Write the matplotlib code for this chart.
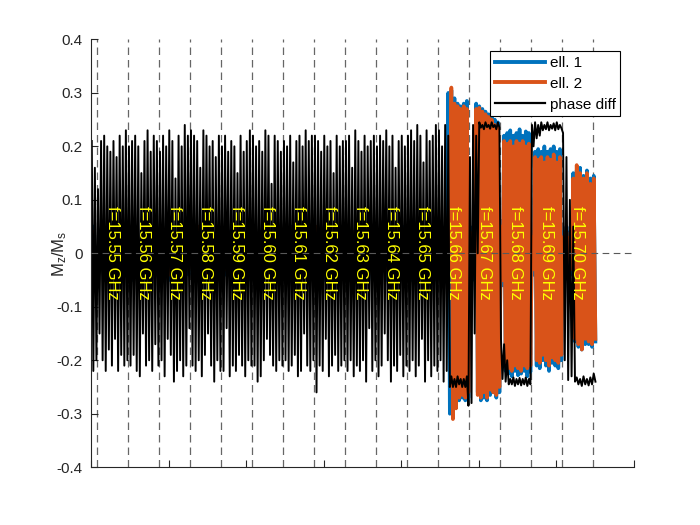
import numpy as np
import matplotlib
matplotlib.use('Agg')
import matplotlib.pyplot as plt
from matplotlib.lines import Line2D

plt.rcParams['font.family'] = 'Liberation Sans'
plt.rcParams['mathtext.default'] = 'regular'
plt.rcParams['axes.unicode_minus'] = False

# drive frequency of each time window (GHz)
freqs = ['15.55', '15.56', '15.57', '15.58', '15.59', '15.60', '15.61', '15.62',
         '15.63', '15.64', '15.65', '15.66', '15.67', '15.68', '15.69', '15.70']
# time window edges (data ends a bit after the last marker)
edges = [0.0, 1.2, 2.2, 3.2, 4.2, 5.2, 6.2, 7.2, 8.2, 9.2, 10.2,
         11.2, 12.2, 13.2, 14.2, 15.2, 16.3]
# dashed markers between frequencies
markers = [0.2, 1.2, 2.2, 3.2, 4.2, 5.2, 6.2, 7.2, 8.2, 9.2, 10.2,
           11.2, 12.2, 13.2, 14.2, 15.2, 16.2]

# ell. 1 : upper / lower swing of the oscillation in each window
ell1_hi = [
    [0.05, 0.04, 0.05, 0.03, 0.04], [0.04, 0.05, 0.03, 0.04, 0.05],
    [0.05, 0.03, 0.05, 0.04, 0.03], [0.04, 0.05, 0.04, 0.05, 0.03],
    [0.03, 0.04, 0.05, 0.04, 0.05], [0.05, 0.04, 0.03, 0.05, 0.04],
    [0.04, 0.05, 0.04, 0.03, 0.05], [0.03, 0.04, 0.05, 0.04, 0.05],
    [0.05, 0.04, 0.05, 0.03, 0.04], [0.04, 0.03, 0.05, 0.04, 0.05],
    [0.05, 0.04, 0.04, 0.06, 0.05],
    [0.04, 0.03, 0.05, 0.30, 0.305, 0.29, 0.28, 0.275, 0.28, 0.285],
    [0.04, 0.05, 0.28, 0.275, 0.27, 0.265, 0.26, 0.255, 0.25, 0.245],
    [0.06, 0.22, 0.225, 0.23, 0.22, 0.225, 0.232, 0.22, 0.228, 0.225],
    [0.04, 0.19, 0.195, 0.19, 0.20, 0.19, 0.195, 0.20, 0.19, 0.195],
    [0.04, 0.05, 0.04, 0.15, 0.155, 0.16, 0.145, 0.155, 0.14, 0.145],
]
ell1_lo = [
    [-0.04, -0.05, -0.04, -0.05, -0.03], [-0.05, -0.04, -0.05, -0.03, -0.04],
    [-0.04, -0.05, -0.03, -0.05, -0.04], [-0.05, -0.03, -0.05, -0.04, -0.05],
    [-0.04, -0.05, -0.04, -0.03, -0.05], [-0.03, -0.05, -0.04, -0.05, -0.04],
    [-0.05, -0.04, -0.05, -0.04, -0.03], [-0.04, -0.05, -0.03, -0.05, -0.04],
    [-0.05, -0.03, -0.04, -0.05, -0.04], [-0.04, -0.05, -0.04, -0.03, -0.05],
    [-0.05, -0.04, -0.06, -0.04, -0.05],
    [-0.04, -0.05, -0.03, -0.30, -0.306, -0.28, -0.275, -0.27, -0.275, -0.27],
    [-0.04, -0.05, -0.26, -0.275, -0.27, -0.275, -0.265, -0.26, -0.27, -0.26],
    [-0.06, -0.22, -0.225, -0.23, -0.22, -0.228, -0.225, -0.22, -0.23, -0.222],
    [-0.04, -0.21, -0.215, -0.20, -0.21, -0.22, -0.205, -0.21, -0.215, -0.20],
    [-0.04, -0.05, -0.04, -0.165, -0.175, -0.18, -0.17, -0.17, -0.175, -0.165],
]

# ell. 2
ell2_hi = [
    [0.04, 0.03, 0.06, 0.03, 0.04], [0.03, 0.04, 0.03, 0.05, 0.04],
    [0.04, 0.03, 0.04, 0.03, 0.05], [0.03, 0.05, 0.03, 0.04, 0.03],
    [0.04, 0.03, 0.05, 0.03, 0.04], [0.03, 0.04, 0.03, 0.04, 0.05],
    [0.04, 0.03, 0.04, 0.03, 0.04], [0.05, 0.03, 0.04, 0.05, 0.03],
    [0.03, 0.04, 0.05, 0.04, 0.03], [0.04, 0.03, 0.04, 0.05, 0.04],
    [0.04, 0.05, 0.04, 0.05, 0.04],
    [0.03, 0.02, 0.04, 0.03, 0.31, 0.28, 0.275, 0.27, 0.275, 0.27],
    [0.03, 0.04, 0.27, 0.272, 0.265, 0.26, 0.255, 0.25, 0.24, 0.235],
    [0.05, 0.21, 0.205, 0.21, 0.20, 0.21, 0.205, 0.21, 0.20, 0.205],
    [0.03, 0.18, 0.175, 0.18, 0.17, 0.18, 0.175, 0.185, 0.17, 0.18],
    [0.03, 0.04, 0.03, 0.14, 0.165, 0.15, 0.14, 0.15, 0.13, 0.14],
]
ell2_lo = [
    [-0.03, -0.04, -0.03, -0.04, -0.03], [-0.04, -0.03, -0.04, -0.03, -0.04],
    [-0.03, -0.04, -0.03, -0.04, -0.03], [-0.04, -0.03, -0.04, -0.03, -0.04],
    [-0.03, -0.04, -0.03, -0.04, -0.03], [-0.04, -0.03, -0.04, -0.03, -0.04],
    [-0.03, -0.04, -0.03, -0.04, -0.03], [-0.04, -0.03, -0.04, -0.03, -0.04],
    [-0.03, -0.04, -0.03, -0.04, -0.03], [-0.04, -0.03, -0.04, -0.03, -0.04],
    [-0.03, -0.04, -0.03, -0.04, -0.03],
    [-0.03, -0.04, -0.02, -0.03, -0.31, -0.29, -0.27, -0.265, -0.27, -0.26],
    [-0.03, -0.04, -0.265, -0.27, -0.26, -0.27, -0.255, -0.26, -0.265, -0.25],
    [-0.05, -0.21, -0.215, -0.22, -0.21, -0.215, -0.22, -0.21, -0.215, -0.21],
    [-0.03, -0.20, -0.205, -0.19, -0.20, -0.21, -0.195, -0.20, -0.205, -0.19],
    [-0.03, -0.04, -0.03, -0.16, -0.17, -0.18, -0.16, -0.165, -0.17, -0.16],
]

# phase diff
pd_hi = [
    [0.21, 0.16, 0.12, 0.21, 0.22, 0.20, 0.19, 0.21, 0.18, 0.22, 0.20, 0.23],
    [0.20, 0.21, 0.22, 0.20, 0.15, 0.21, 0.23, 0.19, 0.22, 0.21],
    [0.19, 0.22, 0.20, 0.23, 0.21, 0.14, 0.22, 0.20, 0.24, 0.22],
    [0.23, 0.22, 0.21, 0.16, 0.23, 0.22, 0.20, 0.21, 0.18, 0.22],
    [0.20, 0.22, 0.19, 0.21, 0.20, 0.15, 0.22, 0.19, 0.21, 0.23],
    [0.22, 0.20, 0.21, 0.19, 0.23, 0.22, 0.13, 0.22, 0.21, 0.19],
    [0.21, 0.20, 0.22, 0.17, 0.21, 0.22, 0.20, 0.23, 0.21, 0.22],
    [0.22, 0.21, 0.19, 0.22, 0.20, 0.21, 0.15, 0.22, 0.20, 0.21],
    [0.21, 0.22, 0.16, 0.23, 0.21, 0.19, 0.22, 0.20, 0.21, 0.22],
    [0.20, 0.22, 0.21, 0.23, 0.20, 0.22, 0.16, 0.21, 0.22, 0.20],
    [0.22, 0.23, 0.21, 0.24, 0.22, 0.17, 0.23, 0.21, 0.22, 0.24],
    [0.23, 0.20, 0.24, 0.22, -0.23, -0.235, -0.23, -0.235, -0.235, -0.23],
    [0.18, 0.24, 0.22, 0.245, 0.24, 0.245, 0.24, 0.245, 0.24, 0.245],
    [-0.16, -0.17, -0.20, -0.235, -0.232, -0.235, -0.233, -0.235, -0.232, -0.235],
    [0.24, 0.245, 0.24, 0.245, 0.24, 0.245, 0.24, 0.243, 0.245, 0.24],
    [0.225, 0.18, 0.10, 0.05, -0.232, -0.235, -0.23, -0.235, -0.232, -0.225],
]
pd_lo = [
    [-0.22, -0.20, -0.15, -0.20, -0.22, -0.18, -0.21, -0.16, -0.22, -0.19, -0.21, -0.20],
    [-0.21, -0.19, -0.22, -0.23, -0.15, -0.21, -0.20, -0.22, -0.17, -0.21],
    [-0.20, -0.23, -0.16, -0.19, -0.24, -0.22, -0.20, -0.23, -0.21, -0.14],
    [-0.21, -0.22, -0.20, -0.23, -0.19, -0.15, -0.21, -0.24, -0.20, -0.22],
    [-0.22, -0.14, -0.23, -0.21, -0.22, -0.19, -0.21, -0.23, -0.20, -0.21],
    [-0.21, -0.24, -0.23, -0.20, -0.16, -0.19, -0.21, -0.22, -0.20, -0.21],
    [-0.20, -0.22, -0.21, -0.19, -0.23, -0.22, -0.15, -0.21, -0.22, -0.20],
    [-0.26, -0.21, -0.22, -0.16, -0.23, -0.21, -0.19, -0.22, -0.21, -0.20],
    [-0.22, -0.20, -0.23, -0.21, -0.22, -0.20, -0.24, -0.14, -0.22, -0.20],
    [-0.23, -0.21, -0.15, -0.20, -0.24, -0.21, -0.22, -0.19, -0.23, -0.21],
    [-0.22, -0.20, -0.23, -0.21, -0.16, -0.24, -0.20, -0.23, -0.21, -0.22],
    [-0.20, -0.24, -0.22, -0.25, -0.25, -0.25, -0.245, -0.25, -0.25, -0.285],
    [-0.28, -0.15, 0.0, 0.235, 0.232, 0.236, 0.233, 0.236, 0.232, 0.235],
    [-0.235, -0.24, -0.245, -0.245, -0.248, -0.245, -0.247, -0.245, -0.248, -0.245],
    [0.20, 0.215, 0.22, 0.23, 0.232, 0.23, 0.233, 0.23, 0.232, 0.234],
    [-0.20, -0.237, -0.23, -0.24, -0.245, -0.248, -0.245, -0.247, -0.245, -0.24],
]


def swing(hi, lo):
    # alternate between the upper and lower swing inside every window
    xs, ys = [], []
    for k in range(len(hi)):
        n = len(hi[k])
        step = (edges[k + 1] - edges[k]) / (2 * n)
        x = edges[k] + (np.arange(2 * n) + 0.5) * step
        y = np.empty(2 * n)
        y[0::2] = hi[k]
        y[1::2] = lo[k]
        xs.append(x)
        ys.append(y)
    return np.concatenate(xs), np.concatenate(ys)


blue = '#0072BD'
orange = '#D95319'

fig = plt.figure(figsize=(7, 5.25), dpi=100)
ax = fig.add_axes([0.13, 0.11, 0.775, 0.815])

x1, y1 = swing(ell1_hi, ell1_lo)
x2, y2 = swing(ell2_hi, ell2_lo)
xp, yp = swing(pd_hi, pd_lo)
ax.plot(x1, y1, color=blue, lw=2.6, zorder=2)
ax.plot(x2, y2, color=orange, lw=2.6, zorder=2)
ax.plot(xp, yp, color='k', lw=1.4, zorder=2)

# frequency markers (behind the traces)
for xm in markers:
    ax.axvline(xm, color=(0.4, 0.4, 0.4), lw=0.9, ls=(0, (6, 4)), zorder=1)
ax.axhline(0, color=(0.35, 0.35, 0.35), lw=0.8, ls=(0, (6, 4)), zorder=3)

for k, f in enumerate(freqs):
    xc = (markers[k] + markers[k + 1]) / 2
    ax.text(xc, 0, 'f=' + f + ' GHz', rotation=-90, color='yellow',
            ha='center', va='center', fontsize=12, zorder=5)

ax.set_xlim(0, 17.5)
ax.set_ylim(-0.4, 0.4)
ax.set_xticks(np.arange(0, 17.6, 2.5))
ax.set_xticklabels([])
yt = [-0.4, -0.3, -0.2, -0.1, 0, 0.1, 0.2, 0.3, 0.4]
ax.set_yticks(yt)
ax.set_yticklabels(['-0.4', '-0.3', '-0.2', '-0.1', '0', '0.1', '0.2', '0.3', '0.4'])
ax.tick_params(direction='in', length=5, width=0.8, labelsize=11,
               colors='#262626', pad=6)
for s in ['top', 'right']:
    ax.spines[s].set_visible(False)
for s in ['left', 'bottom']:
    ax.spines[s].set_color('#262626')
    ax.spines[s].set_linewidth(0.8)

ax.set_ylabel(r'M$_z$/M$_s$', fontsize=12, color='#262626')
ax.yaxis.set_label_coords(-0.04, 0.5)

handles = [Line2D([], [], color=blue, lw=2.8),
           Line2D([], [], color=orange, lw=2.8),
           Line2D([], [], color='k', lw=1.6)]
leg = ax.legend(handles, ['ell. 1', 'ell. 2', 'phase diff'], loc='upper right',
                bbox_to_anchor=(0.976, 0.972), fontsize=11, fancybox=False,
                framealpha=1, edgecolor='k', handlelength=3.3,
                borderpad=0.3, labelspacing=0.45, handletextpad=0.3,
                borderaxespad=0)
leg.get_frame().set_linewidth(0.8)
leg.set_zorder(6)

plt.savefig('out.png', dpi=100)
